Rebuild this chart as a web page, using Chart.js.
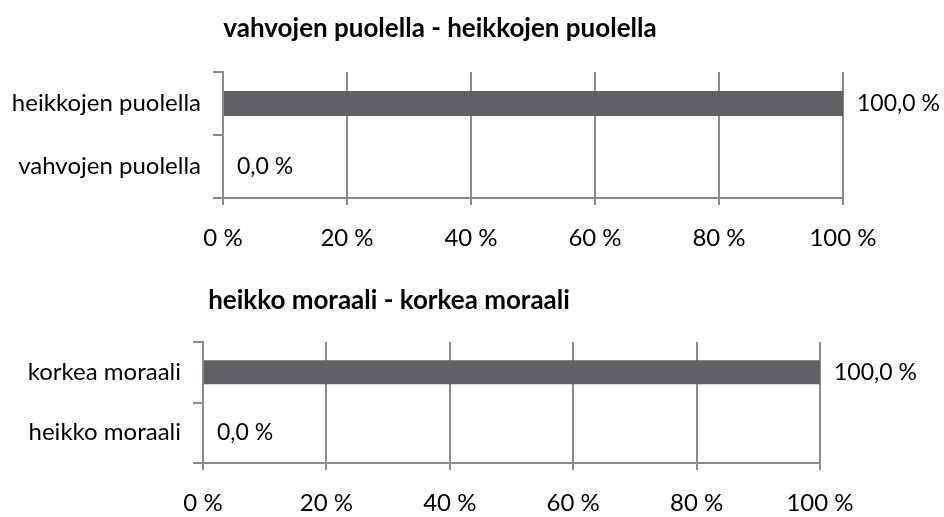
<!DOCTYPE html>
<html>
<head>
<meta charset="utf-8">
<script src="https://cdn.jsdelivr.net/npm/chart.js@4"></script>
<style>
  body { margin: 0; background: #fff; }
  .wrap { position: absolute; left: 0; width: 944px; }
  .title { position: absolute; font: bold 26px Lato, sans-serif; color: #000; white-space: nowrap; transform: translateX(-50%); line-height: 30px; }
</style>
</head>
<body>
<div class="wrap" style="top:0;height:260px"><canvas id="c1"></canvas></div>
<div class="wrap" style="top:260px;height:257px"><canvas id="c2"></canvas></div>
<div class="title" style="left:440px;top:12px">vahvojen puolella - heikkojen puolella</div>
<div class="title" style="left:389px;top:284px">heikko moraali - korkea moraali</div>
<script>
const labels1 = ["heikkojen puolella", "vahvojen puolella"];
const values1 = [100, 0];
const labels2 = ["korkea moraali", "heikko moraali"];
const values2 = [100, 0];
const xTicks = [0, 20, 40, 60, 80, 100];

const FONT = "Lato, sans-serif";
const GRID = "#8c8c8c";

// arvot palkkien perään, esim. "100,0 %"
const valueLabels = {
  id: "valueLabels",
  afterDatasetsDraw(chart) {
    const ctx = chart.ctx;
    ctx.save();
    ctx.font = "23px " + FONT;
    ctx.fillStyle = "#000";
    ctx.textAlign = "left";
    ctx.textBaseline = "middle";
    chart.getDatasetMeta(0).data.forEach((bar, i) => {
      const v = chart.data.datasets[0].data[i];
      ctx.fillText(v.toFixed(1).replace(".", ",") + " %", bar.x + 14, bar.y);
    });
    ctx.restore();
  }
};

function makeChart(id, labels, values, left, right, top, bottom, h) {
  return new Chart(document.getElementById(id), {
    type: "bar",
    data: {
      labels: labels,
      datasets: [{
        data: values,
        backgroundColor: "#606165",
        barPercentage: 0.4,
        categoryPercentage: 1
      }]
    },
    plugins: [valueLabels],
    options: {
      indexAxis: "y",
      responsive: false,
      animation: false,
      layout: { padding: { top: top, right: 944 - right, left: 0, bottom: 0 } },
      plugins: { legend: { display: false }, tooltip: { enabled: false } },
      scales: {
        x: {
          min: 0,
          max: 100,
          afterBuildTicks: s => { s.ticks = xTicks.map(v => ({ value: v })); },
          afterFit: s => { s.height = h - bottom; },
          grid: { color: GRID, lineWidth: 2, tickLength: 7 },
          border: { color: GRID, width: 2 },
          ticks: { color: "#000", font: { family: FONT, size: 24 }, padding: 19, maxRotation: 0, callback: v => v + " %" }
        },
        y: {
          afterFit: s => { s.width = left; },
          grid: { color: GRID, lineWidth: 2, drawOnChartArea: false, tickLength: 10, offset: true },
          border: { color: GRID, width: 2 },
          ticks: { color: "#000", font: { family: FONT, size: 24 }, padding: 12 }
        }
      }
    }
  });
}

const c1 = document.getElementById("c1");
c1.width = 944; c1.height = 260;
const c2 = document.getElementById("c2");
c2.width = 944; c2.height = 257;

makeChart("c1", labels1, values1, 223, 843, 72, 198, 260);
makeChart("c2", labels2, values2, 203, 820, 82, 203, 257);
</script>
</body>
</html>
